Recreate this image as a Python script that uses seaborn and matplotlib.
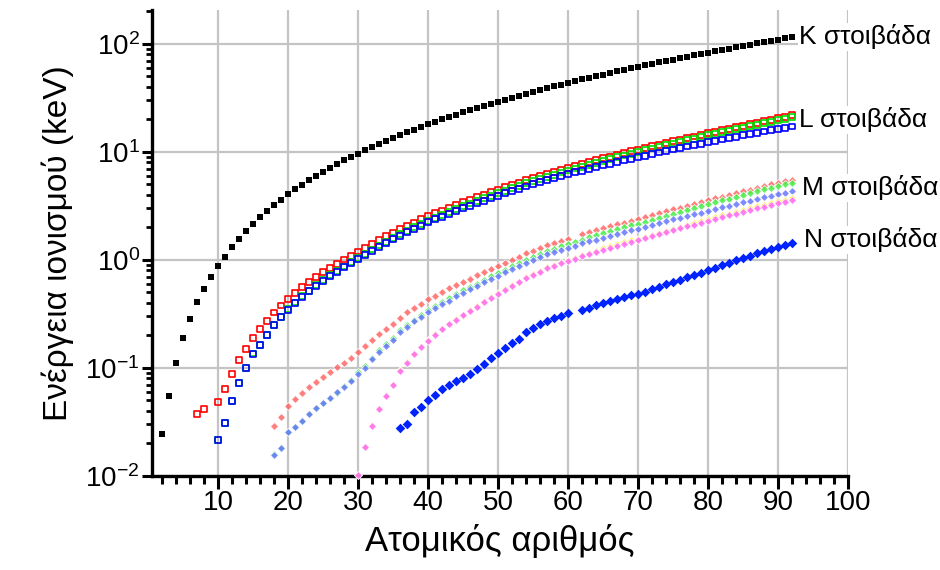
import numpy as np
import pandas as pd
import matplotlib
matplotlib.use("Agg")
import matplotlib.pyplot as plt
import matplotlib.ticker as mticker
import seaborn as sns

nan = np.nan

# binding energies in eV, one value per atomic number starting at *_start
k_start = 2
k_ev = [24.6, 54.7, 111.5, 188, 284.2, 409.9, 543.1, 696.7, 870.2, 1070.8,
        1303.0, 1559.6, 1839, 2145.5, 2472, 2822.4, 3205.9, 3608.4, 4038.5, 4492,
        4966, 5465, 5989, 6539, 7112, 7709, 8333, 8979, 9659, 10367,
        11103, 11867, 12658, 13474, 14326, 15200, 16105, 17038, 17998, 18986,
        20000, 21044, 22117, 23220, 24350, 25514, 26711, 27940, 29200, 30491,
        31814, 33169, 34561, 35985, 37441, 38925, 40443, 41991, 43569, 45184,
        46834, 48519, 50239, 51996, 53789, 55618, 57486, 59390, 61332, 63314,
        65351, 67416, 69525, 71676, 73871, 76111, 78395, 80725, 83102, 85530,
        88005, 90524, 93105, 95730, 98404, 101137, 103922, 106755, 109651, 112601,
        115606]

l1_start = 7
l1_ev = [37.3, 41.6, nan, 48.5, 63.5, 88.7, 117.8, 149.7, 189, 230.9, 270,
         326.3, 378.6, 438.4, 498.0, 560.9, 626.7, 696.0, 769.1, 844.6, 925.1,
         1008.6, 1096.7, 1196.2, 1299.0, 1414.6, 1527.0, 1652.0, 1782, 1921, 2065,
         2216, 2373, 2532, 2698, 2866, 3043, 3224, 3412, 3604, 3806,
         4018, 4238, 4465, 4698, 4939, 5188, 5453, 5714, 5989, 6266,
         6549, 6835, 7126, 7428, 7737, 8052, 8376, 8708, 9046, 9394,
         9751, 10116, 10486, 10870, 11271, 11682, 12100, 12527, 12968, 13419,
         13880, 14353, 14839, 15347, 15861, 16388, 16939, 17493, 18049, 18639,
         19237, 19840, 20472, 21105, 21757]

l2_start = 10
l2_ev = [21.7, 30.65, 49.78, 72.95, 99.82, 136, 163.6, 202, 250.6, 297.3,
         349.7, 403.6, 460.2, 519.8, 583.8, 649.9, 719.9, 793.2, 870.0, 952.3,
         1044.9, 1143.2, 1248.1, 1359.1, 1474.3, 1596, 1730.9, 1864, 2007, 2156,
         2307, 2465, 2625, 2793, 2967, 3146, 3330, 3524, 3727, 3938,
         4156, 4380, 4612, 4852, 5107, 5359, 5624, 5891, 6164, 6440,
         6722, 7013, 7312, 7617, 7930, 8252, 8581, 8918, 9264, 9617,
         9978, 10349, 10739, 11136, 11544, 11959, 12385, 12824, 13273, 13734,
         14209, 14698, 15200, 15711, 16244, 16785, 17337, 17907, 18484, 19083,
         19693, 20314, 20948]

l3_start = 10
l3_ev = [21.6, 30.81, 49.50, 72.55, 99.42, 135, 162.5, 200, 248.4, 294.6,
         346.2, 398.7, 453.8, 512.1, 574.1, 638.7, 706.8, 778.1, 852.7, 932.7,
         1021.8, 1116.4, 1217.0, 1323.6, 1433.9, 1550, 1678.4, 1804, 1940, 2080,
         2223, 2371, 2520, 2677, 2838, 3004, 3173, 3351, 3538, 3730,
         3929, 4132, 4341, 4557, 4786, 5012, 5247, 5483, 5723, 5964,
         6208, 6459, 6716, 6977, 7243, 7514, 7790, 8071, 8358, 8648,
         8944, 9244, 9561, 9881, 10207, 10535, 10871, 11215, 11564, 11919,
         12284, 12658, 13035, 13419, 13814, 14214, 14619, 15031, 15444, 15871,
         16300, 16733, 17166]

m1_start = 18
m1_ev = [29.3, 34.8, 44.3, 51.1, 58.7, 66.3, 74.1, 82.3, 91.3, 101.0,
         110.8, 122.5, 139.8, 159.5, 180.1, 204.7, 229.6, 257, 292.8, 326.7,
         358.7, 392.0, 430.3, 466.6, 506.3, 544, 586.1, 628.1, 671.6, 719.0,
         772.0, 827.2, 884.7, 946, 1006, 1072, 1148.7, 1211, 1293, 1362,
         1436, 1511, 1575, nan, 1723, 1800, 1881, 1968, 2047, 2128,
         2207, 2307, 2398, 2491, 2601, 2708, 2820, 2932, 3049, 3174,
         3296, 3425, 3562, 3704, 3851, 3999, 4149, 4317, 4482, 4652,
         4822, 5002, 5182, 5367, 5548]

m2_start = 18
m2_ev = [15.9, 18.3, 25.4, 28.3, 32.6, 37.2, 42.2, 47.2, 52.7, 58.9,
         68.0, 77.3, 91.4, 103.5, 124.9, 146.2, 166.5, 189, 222.2, 248.7,
         280.3, 310.6, 343.5, 376.1, 411.6, 447.6, 483.5, 521.3, 559.9, 603.8,
         652.6, 703.2, 756.5, 812.7, 870.8, 931, 1002.1, 1071, 1137, 1209,
         1274, 1337, 1403, 1471, 1541, 1614, 1688, 1768, 1842, 1923,
         2006, 2090, 2173, 2264, 2365, 2469, 2575, 2682, 2792, 2909,
         3027, 3148, 3279, 3416, 3554, 3696, 3854, 4008, 4159, 4327,
         4490, 4656, 4830, 5001, 5182]

m3_start = 18
m3_ev = [15.7, 18.3, 25.4, 28.3, 32.6, 37.2, 42.2, 47.2, 52.7, 59.9,
         66.2, 75.1, 88.6, 100.0, 120.8, 141.2, 160.7, 182, 214.4, 239.1,
         270.0, 298.8, 329.8, 360.6, 394.0, 417.7, 461.4, 496.5, 532.3, 573.0,
         618.4, 665.3, 714.6, 766.4, 820.0, 875, 940.6, 1003, 1063, 1128,
         1187, 1242, 1297, 1357, 1420, 1481, 1544, 1611, 1676, 1741,
         1812, 1885, 1950, 2024, 2108, 2194, 2281, 2367, 2457, 2551,
         2645, 2743, 2847, 2957, 3066, 3177, 3302, 3426, 3538, 3663,
         3792, 3909, 4046, 4174, 4303]

m4_start = 30
m4_ev = [10.2, 18.7, 29.8, 41.7, 55.5, 70, 95.0, 113.0, 136.0, 157.7,
         181.1, 205.0, 231.1, 257.6, 284.2, 311.9, 340.5, 374.0, 411.9, 451.4,
         493.2, 537.5, 583.4, 630.8, 689.0, 740.5, 795.7, 853, 902.4, 948.3,
         1003.3, 1052, 1110.9, 1158.6, 1221.9, 1276.9, 1333, 1392, 1453, 1515,
         1576, 1639, 1716, 1793, 1872, 1949, 2031, 2116, 2202, 2291,
         2385, 2485, 2586, 2688, 2798, 2909, 3022, 3136, 3248, 3370,
         3491, 3611, 3728]

m5_start = 30
m5_ev = [10.1, 18.7, 29.2, 41.7, 54.6, 69, 93.8, 112, 134.2, 155.8,
         178.8, 202.3, 227.9, 253.9, 280.0, 307.2, 335.2, 368.3, 405.2, 443.9,
         484.9, 528.2, 573.0, 619.3, 676.4, 726.6, 780.5, 836, 883.8, 928.8,
         980.4, 1027, 1083.4, 1127.5, 1189.6, 1241.1, 1292.6, 1351, 1409, 1468,
         1528, 1589, 1662, 1735, 1809, 1883, 1960, 2040, 2122, 2206,
         2295, 2389, 2484, 2580, 2683, 2787, 2892, 3000, 3105, 3219,
         3332, 3442, 3552]

n1_start = 36
n1_ev = [27.5, 30.5, 38.9, 43.8, 50.6, 56.4, 63.2, 69.5, 75.0, 81.4,
         87.1, 97.0, 109.8, 122.9, 137.1, 153.2, 169.4, 186, 213.2, 232.3,
         253.5, 274.7, 291.0, 304.5, 319.2, nan, 347.2, 360, 378.6, 396.0,
         414.2, 432.4, 449.8, 470.9, 480.5, 506.8, 538, 563.4, 594.1, 625.4,
         658.2, 691.1, 725.4, 762.1, 802.2, 846.2, 891.8, 939, 995, 1042,
         1097, 1153, 1208, 1269, 1330, 1387, 1439]

shell_labels = ["K στοιβάδα", "L στοιβάδα", "M στοιβάδα", "N στοιβάδα"]
label_x = [93, 93, 93.5, 93.7]
label_y = [116, 19.8, 4.64, 1.53]

series = [
    ("K", k_start, k_ev), ("L1", l1_start, l1_ev), ("L2", l2_start, l2_ev),
    ("L3", l3_start, l3_ev), ("M1", m1_start, m1_ev), ("M2", m2_start, m2_ev),
    ("M3", m3_start, m3_ev), ("M4", m4_start, m4_ev), ("M5", m5_start, m5_ev),
    ("N1", n1_start, n1_ev),
]

frames = []
for name, start, vals in series:
    z = np.arange(start, start + len(vals))
    frames.append(pd.DataFrame({"Z": z, "E": np.array(vals) / 1000.0, "shell": name}))
df = pd.concat(frames).dropna()

styles = {
    "K":  dict(marker="s", color="black", s=13, linewidth=0),
    "L1": dict(marker="s", facecolors="none", edgecolors="#ff0000", s=18, linewidth=1.2),
    "L2": dict(marker="s", facecolors="none", edgecolors="#00dd00", s=18, linewidth=1.2),
    "L3": dict(marker="s", facecolors="none", edgecolors="#0000ff", s=18, linewidth=1.2),
    "M1": dict(marker="D", color="#ff6666", s=16, linewidth=0.6, alpha=0.85),
    "M2": dict(marker="D", color="#44ee44", s=16, linewidth=0.6, alpha=0.85),
    "M3": dict(marker="D", color="#6677ff", s=16, linewidth=0.6, alpha=0.85),
    "M4": dict(marker="D", color="#ffee33", s=16, linewidth=0.6, alpha=0.85),
    "M5": dict(marker="D", color="#ff66ff", s=16, linewidth=0.6, alpha=0.85),
    "N1": dict(marker="D", color="#0022ff", s=24, linewidth=0),
}

sns.set_style("white")
plt.rcParams["font.family"] = ["Liberation Sans", "DejaVu Sans"]
plt.rcParams["mathtext.fontset"] = "custom"
plt.rcParams["mathtext.rm"] = "Liberation Sans"
plt.rcParams["axes.unicode_minus"] = False
for key in ["text.color", "axes.labelcolor", "xtick.color", "ytick.color"]:
    plt.rcParams[key] = "black"

fig = plt.figure(figsize=(9.4, 5.7), dpi=100)
ax = fig.add_axes([0.162, 0.165, 0.740, 0.8175])

for name, _, _ in series:
    sub = df[df["shell"] == name]
    sns.scatterplot(data=sub, x="Z", y="E", ax=ax, legend=False, zorder=3,
                    clip_on=False, **styles[name])

ax.set_yscale("log")
ax.set_xlim(0.6, 100)
ax.set_ylim(0.01, 206)

ax.xaxis.set_major_locator(mticker.MultipleLocator(10))
ax.xaxis.set_minor_locator(mticker.MultipleLocator(2))
ax.yaxis.set_major_locator(mticker.LogLocator(base=10, numticks=10))
ax.yaxis.set_minor_locator(mticker.LogLocator(base=10, subs=np.arange(2, 10), numticks=20))
ax.yaxis.set_minor_formatter(mticker.NullFormatter())

ax.grid(True, which="major", color="#c4c4c4", linewidth=1.6, zorder=0)
ax.set_axisbelow(True)

for side in ["top", "right"]:
    ax.spines[side].set_visible(False)
for side in ["left", "bottom"]:
    ax.spines[side].set_linewidth(2.4)
    ax.spines[side].set_color("black")

ax.tick_params(axis="x", which="major", direction="out", length=9, width=2.2,
               labelsize=20, pad=1, bottom=True)
ax.tick_params(axis="x", which="minor", direction="out", length=6, width=2.2, bottom=True)
ax.tick_params(axis="y", which="major", direction="out", length=7, width=2.2,
               labelsize=20, pad=2, left=True)
ax.tick_params(axis="y", which="minor", direction="out", length=4.5, width=2.0, left=True)

ax.set_xlabel("Ατομικός αριθμός", fontsize=25, labelpad=6)
ax.set_ylabel("Ενέργεια ιονισμού (keV)", fontsize=24, labelpad=8)

for txt, tx, ty in zip(shell_labels, label_x, label_y):
    ax.text(tx, ty, txt, fontsize=19, ha="left", va="center", zorder=5,
            clip_on=False, bbox=dict(facecolor="white", edgecolor="none", pad=1))

fig.savefig("out.png", dpi=100)
